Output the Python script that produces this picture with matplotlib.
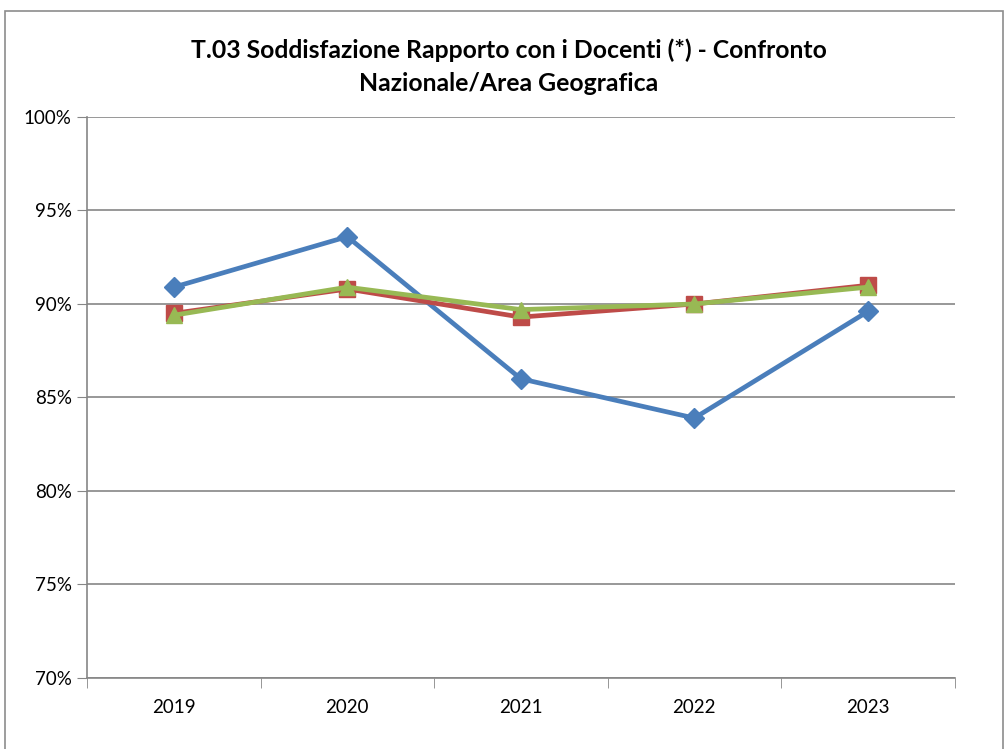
import matplotlib

matplotlib.use("Agg")
import matplotlib.pyplot as plt
from matplotlib.patches import Rectangle

# dati
anni = ["2019", "2020", "2021", "2022", "2023"]
ateneo = [0.909, 0.936, 0.860, 0.839, 0.896]
nazionale = [0.895, 0.908, 0.893, 0.900, 0.910]
area_geo = [0.894, 0.909, 0.897, 0.900, 0.909]

plt.rcParams["font.family"] = ["Lato", "DejaVu Sans"]

fig = plt.figure(figsize=(10.07, 7.49), dpi=100)
ax = fig.add_axes([0.0864, 0.0948, 0.8616, 0.749])

# cornice esterna
fig.patches.append(Rectangle((0.005, -0.01), 0.991, 0.995, transform=fig.transFigure,
                             fill=False, edgecolor="#8c8c8c", linewidth=1.2))

x = range(len(anni))
ax.plot(x, ateneo, color="#4a7ebb", linewidth=3.4, marker="D", markersize=10, zorder=3)
ax.plot(x, nazionale, color="#be4b48", linewidth=3.4, marker="s", markersize=11, zorder=4)
ax.plot(x, area_geo, color="#98b954", linewidth=3.4, marker="^", markersize=12, zorder=5)

ax.set_xlim(-0.5, len(anni) - 0.5)
ax.set_ylim(0.70, 1.00)
yt = [0.70, 0.75, 0.80, 0.85, 0.90, 0.95, 1.00]
ax.set_yticks(yt)
ax.set_yticklabels([f"{int(round(v * 100))}%" for v in yt], fontsize=13.5)
ax.set_xticks(list(x))
ax.set_xticklabels(anni, fontsize=13.5)
ax.set_xticks([i - 0.5 for i in range(len(anni) + 1)], minor=True)
ax.tick_params(axis="x", which="major", length=0, pad=15)
ax.tick_params(axis="x", which="minor", length=7, color="#868686", direction="out")
ax.tick_params(axis="y", length=7, color="#868686", pad=4)

ax.yaxis.grid(True, color="#868686", linewidth=1.2)
ax.set_axisbelow(True)
for s in ["top", "right"]:
    ax.spines[s].set_visible(False)
for s in ["left", "bottom"]:
    ax.spines[s].set_color("#868686")
    ax.spines[s].set_linewidth(1.2)

fig.text(0.505, 0.911, "T.03 Soddisfazione Rapporto con i Docenti (*) - Confronto\nNazionale/Area Geografica",
         ha="center", va="center", fontsize=17.8, fontweight="bold", linespacing=1.5)

plt.savefig("out.png", dpi=100)
